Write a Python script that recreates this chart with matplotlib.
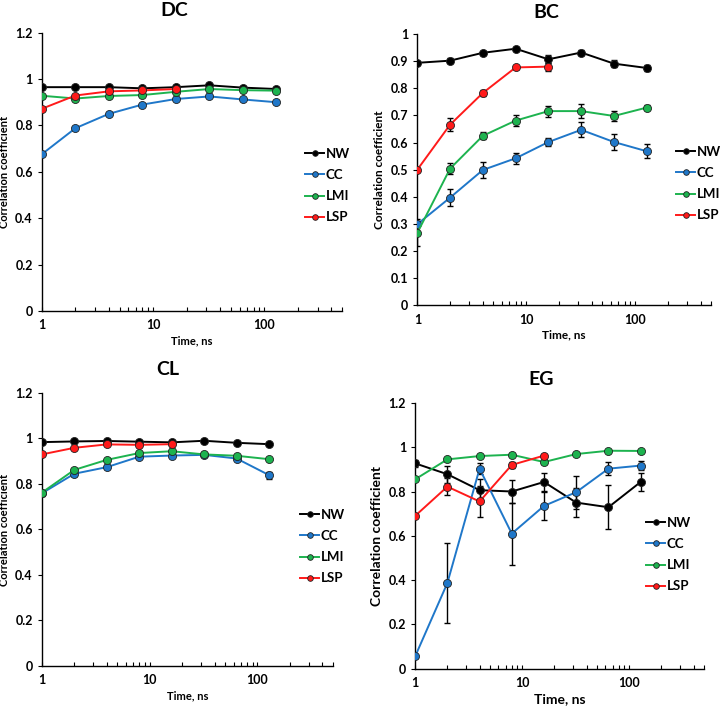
import numpy as np
import matplotlib.pyplot as plt
from matplotlib.ticker import LogLocator, NullFormatter

plt.rcParams['font.family'] = ['Lato', 'DejaVu Sans']
plt.rcParams['font.weight'] = 'bold'

t = [1, 2, 4, 8, 16, 32, 64, 128]
t_lsp = [1, 2, 4, 8, 16]
names = ['NW', 'CC', 'LMI', 'LSP']
colors = ['#000000', '#1f77c9', '#1db34f', '#ff1a1a']

# DC
dc_nw = [0.965, 0.965, 0.965, 0.960, 0.965, 0.973, 0.963, 0.957]
dc_cc = [0.676, 0.788, 0.850, 0.890, 0.914, 0.925, 0.912, 0.900]
dc_lmi = [0.928, 0.916, 0.927, 0.931, 0.945, 0.957, 0.952, 0.950]
dc_lsp = [0.872, 0.929, 0.947, 0.951, 0.957]

# BC
bc_nw = [0.894, 0.902, 0.931, 0.946, 0.907, 0.932, 0.891, 0.875]
bc_cc = [0.299, 0.397, 0.499, 0.542, 0.602, 0.647, 0.602, 0.568]
bc_lmi = [0.267, 0.504, 0.625, 0.681, 0.716, 0.716, 0.698, 0.729]
bc_lsp = [0.500, 0.666, 0.783, 0.877, 0.880]
bc_nw_err = [0.008, 0.010, 0.008, 0.006, 0.015, 0.010, 0.012, 0.010]
bc_cc_err = [0.010, 0.030, 0.031, 0.020, 0.016, 0.027, 0.031, 0.026]
bc_lmi_err = [0.050, 0.019, 0.013, 0.021, 0.020, 0.026, 0.020, 0.010]
bc_lsp_err = [0.005, 0.023, 0.012, 0.005, 0.015]

# CL
cl_nw = [0.984, 0.987, 0.989, 0.986, 0.983, 0.990, 0.981, 0.975]
cl_cc = [0.759, 0.845, 0.874, 0.920, 0.925, 0.928, 0.912, 0.839]
cl_lmi = [0.762, 0.862, 0.906, 0.936, 0.944, 0.930, 0.924, 0.909]
cl_lsp = [0.930, 0.959, 0.974, 0.972, 0.975]
cl_cc_err = [0.01, 0.01, 0.008, 0.006, 0.005, 0.005, 0.008, 0.015]

# EG
eg_nw = [0.927, 0.878, 0.806, 0.800, 0.843, 0.750, 0.729, 0.843]
eg_cc = [0.056, 0.387, 0.903, 0.610, 0.735, 0.797, 0.903, 0.917]
eg_lmi = [0.855, 0.945, 0.960, 0.966, 0.933, 0.969, 0.984, 0.983]
eg_lsp = [0.690, 0.822, 0.755, 0.920, 0.962]
eg_nw_err = [0.015, 0.038, 0.050, 0.050, 0.040, 0.065, 0.100, 0.040]
eg_cc_err = [0.005, 0.180, 0.025, 0.140, 0.064, 0.075, 0.030, 0.020]
eg_lmi_err = [0.005, 0.008, 0.006, 0.006, 0.010, 0.006, 0.005, 0.005]
eg_lsp_err = [0.005, 0.038, 0.068, 0.012, 0.008]

panels = [
    ('DC', [0.058, 0.562, 0.416, 0.392], 1.2, 0.2, [dc_nw, dc_cc, dc_lmi, dc_lsp], None,
     (0.241, 0.985), (310, 158), 8),
    ('BC', [0.578, 0.570, 0.407, 0.382], 1.0, 0.1, [bc_nw, bc_cc, bc_lmi, bc_lsp],
     [bc_nw_err, bc_cc_err, bc_lmi_err, bc_lsp_err], (0.756, 0.983), (681, 156), 8.5),
    ('CL', [0.058, 0.062, 0.403, 0.3845], 1.2, 0.2, [cl_nw, cl_cc, cl_lmi, cl_lsp],
     [None, cl_cc_err, None, None], (0.233, 0.479), (305, 519), 8),
    ('EG', [0.575, 0.058, 0.400, 0.3746], 1.2, 0.2, [eg_nw, eg_cc, eg_lmi, eg_lsp],
     [eg_nw_err, eg_cc_err, eg_lmi_err, eg_lsp_err], (0.749, 0.465), (651, 527), 10),
]

fig = plt.figure(figsize=(7.22, 7.10), dpi=100)

for title, rect, ymax, ystep, series, errs, tpos, lpos, lab_fs in panels:
    ax = fig.add_axes(rect)
    handles = []
    for i in range(4):
        x = t_lsp if names[i] == 'LSP' else t
        y = series[i]
        if errs is not None and errs[i] is not None:
            ax.errorbar(x, y, yerr=errs[i], fmt='none', ecolor='black', elinewidth=1,
                        capsize=2, capthick=1, zorder=2)
        h, = ax.plot(x, y, color=colors[i], lw=1.4, marker='o', ms=5.8,
                     mec='#222222', mew=0.6, label=names[i], zorder=3)
        handles.append(h)
    ax.set_xscale('log')
    ax.set_xlim(1, 500)
    ax.set_ylim(0, ymax)
    yt = np.round(np.arange(0, ymax + 1e-9, ystep), 1)
    ax.set_yticks(yt)
    ax.set_yticklabels(['%g' % v for v in yt])
    ax.set_xticks([1, 10, 100])
    ax.set_xticklabels(['1', '10', '100'])
    ax.xaxis.set_minor_locator(LogLocator(base=10, subs=np.arange(2, 10)))
    ax.xaxis.set_minor_formatter(NullFormatter())
    ax.tick_params(axis='x', which='both', direction='in', length=3, width=0.8, labelsize=9, pad=6)
    ax.tick_params(axis='y', direction='out', length=3, width=0.8, labelsize=9)
    for s in ['top', 'right']:
        ax.spines[s].set_visible(False)
    for s in ['left', 'bottom']:
        ax.spines[s].set_linewidth(1)
    ax.set_xlabel('Time, ns', fontsize=lab_fs, fontweight='bold', labelpad=3)
    ax.set_ylabel('Correlation coefficient', fontsize=lab_fs, fontweight='bold', labelpad=4)
    fig.text(tpos[0], tpos[1], title, fontsize=14, fontweight='bold', ha='center', va='center')
    lx = lpos[0] / 722
    ly = 1 - lpos[1] / 710
    fig.legend(handles=handles, loc='upper left', bbox_to_anchor=(lx - 0.012, ly + 0.02),
               frameon=False, fontsize=9.5, handlelength=1.4, handletextpad=0.15,
               labelspacing=0.7, markerscale=0.7, borderaxespad=0, borderpad=0.3)

plt.savefig('out.png', dpi=100)
